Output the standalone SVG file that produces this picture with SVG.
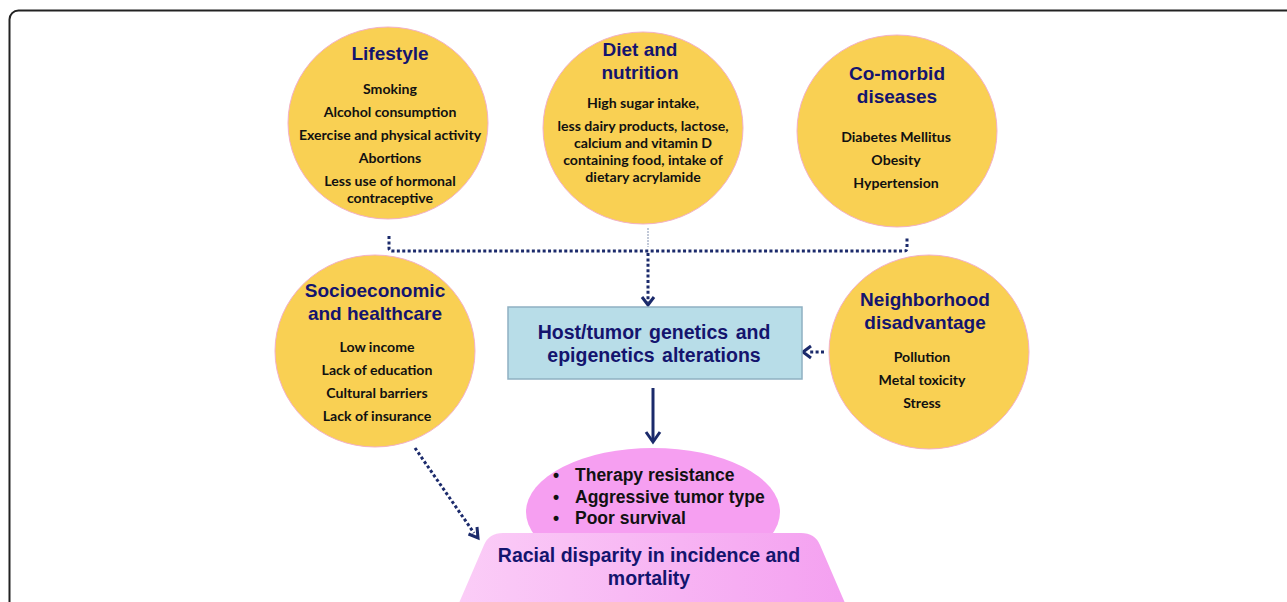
<svg xmlns="http://www.w3.org/2000/svg" width="1287" height="602" viewBox="0 0 1287 602">
<style>
.frame{fill:#ffffff;stroke:#222222;stroke-width:2}
.circ{fill:#f9d053;stroke:#f3b0c8;stroke-width:1}
.title{font-family:"Liberation Sans",Arial,sans-serif;font-weight:700;font-size:19px;fill:#14146e;text-anchor:middle}
.item{font-family:Lato,"Open Sans",sans-serif;font-weight:700;font-size:14.1px;fill:#111111;text-anchor:middle}
.dot{fill:none;stroke:#1b2a6b;stroke-width:3;stroke-dasharray:3 2.4}
.head{fill:none;stroke:#1b2a6b;stroke-width:3;stroke-linejoin:miter;stroke-linecap:butt}
.solid{fill:none;stroke:#1b2a6b;stroke-width:3}
.bul{font-family:"Liberation Sans",Arial,sans-serif;font-weight:700;font-size:17.5px;fill:#111111}
</style>
<defs>
<linearGradient id="pinkg" x1="0" y1="0" x2="1" y2="0">
<stop offset="0" stop-color="#fbcdf7"/>
<stop offset="1" stop-color="#f4a0f0"/>
</linearGradient>
</defs>
<rect class="frame" x="9.5" y="10.5" width="1300" height="620" rx="9"/>

<g id="connectors">
<path class="dot" d="M389,236 V248 Q389,251 392,251 H904 Q907,251 907,248 V238"/>
<path d="M648,228 V247" fill="none" stroke="#9aa6bf" stroke-width="1.2" stroke-dasharray="2 1"/>
<path class="dot" d="M648,253 V302"/>
<path class="head" d="M642,297 L648,305 L654,297"/>
<path class="dot" d="M824,352 H808"/>
<path class="head" d="M811,346 L803,352 L811,358"/>
<path class="solid" d="M653,388 V441"/>
<path class="head" d="M646,432 L653,442 L660,432"/>
<path class="dot" d="M415,448 L474,533"/>
<path class="head" d="M477,527 L478,538 L468.5,534"/>
</g>

<g id="lifestyle">
<ellipse class="circ" cx="388" cy="123" rx="100" ry="96"/>
<text class="title" x="390" y="60">Lifestyle</text>
<text class="item" x="390" y="94">Smoking</text>
<text class="item" x="390" y="117">Alcohol consumption</text>
<text class="item" x="390" y="140">Exercise and physical activity</text>
<text class="item" x="390" y="163">Abortions</text>
<text class="item" x="390" y="186">Less use of hormonal</text>
<text class="item" x="390" y="203">contraceptive</text>
</g>

<g id="diet">
<ellipse class="circ" cx="643" cy="128" rx="100" ry="96"/>
<text class="title" x="640" y="56">Diet and</text>
<text class="title" x="640" y="79">nutrition</text>
<text class="item" x="643" y="108">High sugar intake,</text>
<text class="item" x="643" y="131">less dairy products, lactose,</text>
<text class="item" x="643" y="148">calcium and vitamin D</text>
<text class="item" x="643" y="165">containing food, intake of</text>
<text class="item" x="643" y="182">dietary acrylamide</text>
</g>

<g id="comorbid">
<ellipse class="circ" cx="897" cy="131" rx="100" ry="96"/>
<text class="title" x="897" y="80">Co-morbid</text>
<text class="title" x="897" y="103">diseases</text>
<text class="item" x="896" y="142">Diabetes Mellitus</text>
<text class="item" x="896" y="165">Obesity</text>
<text class="item" x="896" y="188">Hypertension</text>
</g>

<g id="socioeconomic">
<ellipse class="circ" cx="375" cy="351" rx="100" ry="96"/>
<text class="title" x="375" y="297">Socioeconomic</text>
<text class="title" x="375" y="320">and healthcare</text>
<text class="item" x="377" y="352">Low income</text>
<text class="item" x="377" y="375">Lack of education</text>
<text class="item" x="377" y="398">Cultural barriers</text>
<text class="item" x="377" y="421">Lack of insurance</text>
</g>

<g id="neighborhood">
<ellipse class="circ" cx="929" cy="352" rx="100" ry="97"/>
<text class="title" x="925" y="306">Neighborhood</text>
<text class="title" x="925" y="329">disadvantage</text>
<text class="item" x="922" y="362">Pollution</text>
<text class="item" x="922" y="385">Metal toxicity</text>
<text class="item" x="922" y="408">Stress</text>
</g>

<g id="host">
<rect x="508" y="307" width="294" height="72" fill="#b8dde8" stroke="#8fb0c2" stroke-width="1.5"/>
<text class="title" x="654" y="339" style="font-size:19.5px;word-spacing:2px">Host/tumor genetics and</text>
<text class="title" x="654" y="362" style="font-size:19.5px;word-spacing:2px">epigenetics alterations</text>
</g>

<g id="outcomes">
<ellipse cx="653" cy="512" rx="127" ry="64" fill="#f69ff1"/>
<text class="bul" x="553" y="481">•</text>
<text class="bul" x="553" y="503">•</text>
<text class="bul" x="553" y="524">•</text>
<text class="bul" x="575" y="481">Therapy resistance</text>
<text class="bul" x="575" y="503">Aggressive tumor type</text>
<text class="bul" x="575" y="524">Poor survival</text>
</g>

<g id="disparity">
<path d="M503,533 H801 Q815,533 820,545 L848,610 H456 L484,545 Q489,533 503,533 Z" fill="url(#pinkg)"/>
<text class="title" x="649" y="562" style="font-size:19.5px">Racial disparity in incidence and</text>
<text class="title" x="649" y="585" style="font-size:19.5px">mortality</text>
</g>
</svg>
